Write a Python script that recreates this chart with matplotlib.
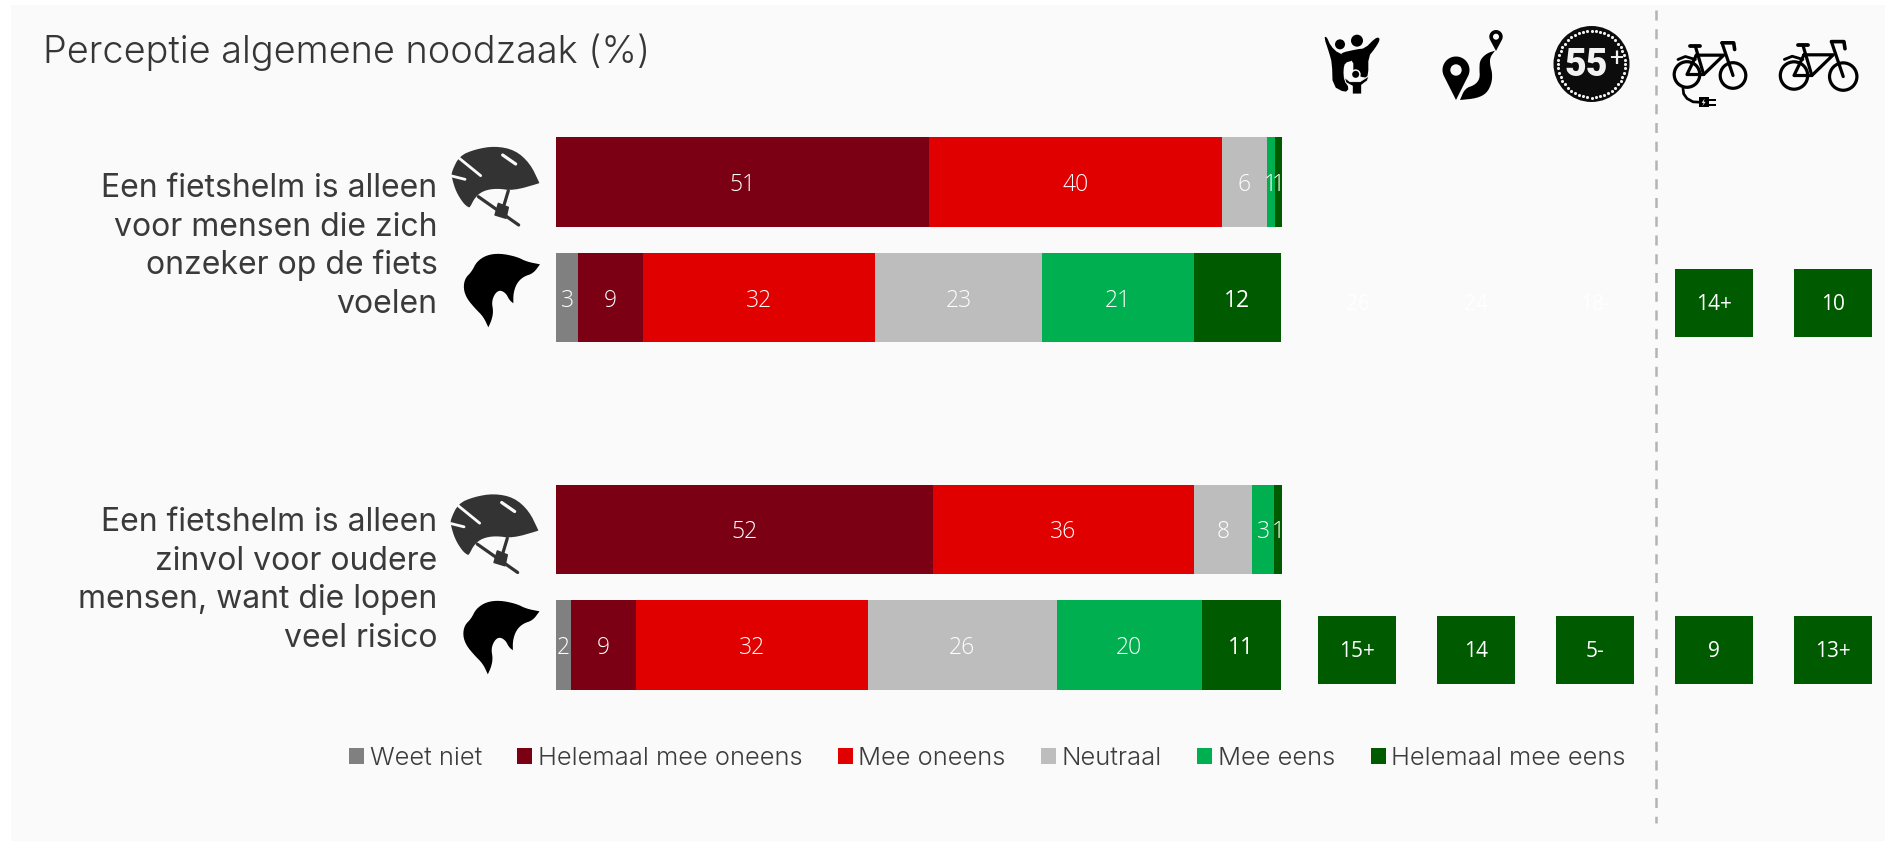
import numpy as np
import matplotlib
matplotlib.use("Agg")
import matplotlib.pyplot as plt
from matplotlib.font_manager import FontProperties
from matplotlib.patches import Circle, Ellipse, Polygon, Rectangle

# ---------- data ----------
title = "Perceptie algemene noodzaak (%)"
question_1 = ["Een fietshelm is alleen", "voor mensen die zich", "onzeker op de fiets", "voelen"]
question_2 = ["Een fietshelm is alleen", "zinvol voor oudere", "mensen, want die lopen", "veel risico"]
row_pos = [0, 1, 3, 4]
answers = ["Weet niet", "Helemaal mee oneens", "Mee oneens", "Neutraal", "Mee eens", "Helemaal mee eens"]
weet_niet = [0, 3.07, 0, 2.1]
helemaal_oneens = [51.45, 8.9, 51.9, 8.9]
oneens = [40.4, 32.0, 36.0, 32.0]
neutraal = [6.1, 23.0, 8.1, 26.0]
eens = [1.15, 21.0, 3.0, 20.0]
helemaal_eens = [0.9, 11.9, 1.0, 10.9]
series = [weet_niet, helemaal_oneens, oneens, neutraal, eens, helemaal_eens]
answer_colors = ["#808080", "#7b0014", "#e10000", "#bdbdbd", "#00b050", "#005a00"]
sub_rows = [1, 4]
sub_labels = [["26", "24", "18-", "14+", "10"], ["15+", "14", "5-", "9", "13+"]]
sub_visible = [[False, False, False, True, True], [True, True, True, True, True]]

W, H = 1885, 841
PANEL = "#fafafa"
INK = "#363636"
fig = plt.figure(figsize=(W / 100, H / 100), dpi=100, facecolor="white")


def axes_px(x0, y0, x1, y1, **kw):
    return fig.add_axes([x0 / W, 1 - y1 / H, (x1 - x0) / W, (y1 - y0) / H], **kw)


def font(size, weight=300, family="Open Sans"):
    return FontProperties(family=family, weight=weight, size=size)


# overlay in pixel coordinates for panel, texts and pictograms
ov = fig.add_axes([0, 0, 1, 1], zorder=1)
ov.set_xlim(0, W)
ov.set_ylim(H, 0)
ov.axis("off")
ov.add_patch(Rectangle((11, 5), W, H, fc=PANEL, ec="none", zorder=0))

# ---------- stacked bars ----------
ax = axes_px(556, 124.1, 1281.5, 702.9, zorder=2)
ax.patch.set_alpha(0)
ax.set_xlim(0, 100)
ax.set_ylim(4.5, -0.5)
ax.axis("off")
lefts = np.zeros(4)
handles = []
for vals, col, name in zip(series, answer_colors, answers):
    vals = np.array(vals, float)
    c = ax.barh(row_pos, vals, left=lefts, height=0.77, color=col, edgecolor="none", label=name)
    handles.append(c)
    for y, v, l in zip(row_pos, vals, lefts):
        if v > 0:
            heavy = col == "#005a00" and v > 5
            ax.text(l + v / 2, y + 0.024, f"{round(v)}", ha="center", va="center", color="white",
                    fontproperties=font(16.5, 400 if heavy else 300))
    lefts += vals
leg = ax.legend(handles, answers, ncol=6, loc="lower left", bbox_to_anchor=(349 / W, 1 - 770 / H),
                bbox_transform=fig.transFigure, frameon=False, prop=font(18.4, 300, "Inter"), borderpad=0,
                borderaxespad=0, handlelength=0.586, handleheight=0.59, handletextpad=0.22,
                columnspacing=1.385, labelcolor="#3c3c3c")

# ---------- subgroup squares ----------
sq = axes_px(1298.1, 124.1, 1891.9, 702.9, zorder=2)
sq.patch.set_alpha(0)
sq.set_xlim(-0.5, 4.5)
sq.set_ylim(4.5, -0.5)
sq.axis("off")
for row, labs, vis in zip(sub_rows, sub_labels, sub_visible):
    for col, (lab, v) in enumerate(zip(labs, vis)):
        if v:
            sq.bar(col, 0.587, width=0.657, bottom=row + 0.045 - 0.2935, color="#005a00")
        sq.text(col, row + 0.06, lab, ha="center", va="center", color="white", fontproperties=font(15, 400))

# ---------- texts ----------
ov.text(43, 63, title, fontproperties=font(27.3, 300, "Inter"), color=INK, va="baseline", ha="left")
for lines, base in ((question_1, 197), (question_2, 531)):
    for i, line in enumerate(lines):
        ov.text(437.5, base + i * 38.6, line, fontproperties=font(23, 400, "Inter"), color="#3a3a3a",
                ha="right", va="baseline")

# separator
ov.plot([1655.5, 1655.5], [10, 823], color="#b4b4b4", lw=1.8, ls=(0, (4, 3.5)), dash_capstyle="butt", zorder=1)


# ---------- pictograms ----------
def chaikin(pts, n=3):
    p = np.array(pts, float)
    for _ in range(n):
        q = np.roll(p, -1, axis=0)
        p = np.column_stack([0.75 * p + 0.25 * q, 0.25 * p + 0.75 * q]).reshape(-1, 2)
    return p


def zmap(pts, ox, oy):
    return np.array(pts, float) / 3 + [ox, oy]


def stroke(pts, color, w, cap="round"):
    p = np.array(pts, float)
    ov.plot(p[:, 0], p[:, 1], color=color, lw=w * 0.72, solid_capstyle=cap, solid_joinstyle="round", zorder=3)


def helmet(dx, dy):
    ox, oy = 420 + dx, 120 + dy
    out = [(95, 155), (118, 108), (165, 88), (225, 78), (285, 90), (330, 130), (358, 188), (358, 190),
           (280, 212), (230, 205), (190, 212), (165, 232), (150, 262), (145, 262), (130, 250), (108, 215), (95, 172)]
    ov.add_patch(Polygon(zmap(chaikin(out, 2), ox, oy), fc="#333333", ec="none", zorder=3))
    stroke(zmap([(118, 115), (182, 167)], ox, oy), PANEL, 2.8)
    stroke(zmap([(95, 168), (135, 178)], ox, oy), PANEL, 2.8)
    stroke(zmap([(248, 105), (287, 132)], ox, oy), PANEL, 3.2)
    stroke(zmap([(175, 230), (296, 315)], ox, oy), "#333333", 3.2)
    stroke(zmap([(265, 212), (250, 262)], ox, oy), "#333333", 3.2)
    ov.add_patch(Polygon(zmap([(235, 250), (265, 262), (258, 295), (225, 285)], ox, oy), fc="#333333", ec="#333333",
                         lw=1, joinstyle="round", zorder=3))


def hair(dx, dy):
    ox, oy = 420 + dx, 120 + dy
    out = [(360, 433), (320, 425), (290, 410), (240, 400), (200, 405), (170, 425), (155, 455), (135, 475), (130, 505),
           (140, 535), (165, 565), (190, 590), (205, 622), (205, 622), (215, 600), (220, 575), (215, 545), (225, 520),
           (240, 510), (258, 520), (268, 540), (280, 550), (280, 550), (280, 520), (290, 490), (310, 470), (340, 460),
           (360, 433)]
    ov.add_patch(Polygon(zmap(chaikin(out, 2), ox, oy), fc="black", ec="none", zorder=3))


helmet(0, 0)
hair(0, 0)
helmet(-1, 347.5)
hair(-0.5, 347)


# family
def fam(pts):
    return zmap(pts, 1310, 20)


ov.add_patch(Polygon(fam(chaikin([(42, 52), (50, 50), (62, 78), (85, 100), (128, 112), (128, 122), (105, 128), (100, 150),
                                  (102, 180), (118, 205), (105, 218), (68, 198), (66, 130), (58, 100)], 1)), fc="black", ec="none", zorder=3))
ov.add_patch(Polygon(fam(chaikin([(95, 98), (140, 88), (165, 85), (195, 55), (207, 52), (209, 62), (195, 85), (175, 110),
                                  (175, 165), (165, 175), (130, 160), (130, 120), (95, 105)], 1)), fc="black", ec="none", zorder=3))
ov.add_patch(Polygon(fam([(103, 172), (120, 185), (150, 185), (177, 168), (172, 182), (155, 195), (155, 222), (127, 222),
                          (127, 198), (108, 188)]), fc="black", ec=PANEL, lw=0.6, zorder=3))
for c, r, col in (((90, 73), 15, "black"), ((141, 62), 18, "black"), ((137, 163), 15, PANEL), ((137, 163), 10.5, "black")):
    ov.add_patch(Circle(fam([c])[0], r / 3, fc=col, ec="none", zorder=3))


# route
def pin(cx, cy, r, tip, hole):
    a = np.radians(np.linspace(210, -30, 40))
    arc = np.column_stack([cx + r * np.cos(a), cy - r * np.sin(a)])
    ov.add_patch(Polygon(np.vstack([arc, [cx, tip]]), fc="black", ec="none", zorder=3))
    ov.add_patch(Circle((cx, cy), hole, fc=PANEL, ec="none", zorder=4))


pin(1456, 70, 13.5, 100, 5.7)
pin(1496, 36.7, 6.7, 51, 3)
road = [(195, 92), (180, 112), (180, 135), (187, 160), (185, 190), (170, 220), (140, 235), (90, 240), (90, 240),
        (105, 205), (135, 195), (150, 175), (148, 145), (150, 120), (170, 100), (195, 92)]
ov.add_patch(Polygon(zmap(chaikin(road, 2), 1430, 20), fc="black", ec="none", zorder=3))

# 55+ badge
bc = (1591.5, 64)
ov.add_patch(Ellipse(bc, 76, 76, fc="#0c0c0c", ec="none", zorder=3))
t = np.radians(np.arange(0, 360, 7.5))
ov.scatter(bc[0] + 33.5 * np.cos(t), bc[1] + 33.5 * np.sin(t), s=5, color="#f0f0f0", lw=0, zorder=4)
ov.text(bc[0] - 5, bc[1] + 1, "55", ha="center", va="center", color="#f2f2f2", zorder=5,
        fontproperties=FontProperties(family="Roboto", weight=900, size=27))
ov.text(bc[0] + 25, bc[1] - 5, "+", ha="center", va="center", color="#f2f2f2", zorder=5,
        fontproperties=FontProperties(family="Roboto", weight=400, size=18))


# bikes
def bike(cx, cy, s, electric=False):
    f = lambda pts: np.array(pts, float) * s / 3 + [cx, cy]
    w = 3.2
    for c in ((0, 0), (138, 3)):
        ov.add_patch(Circle(f([c])[0], 12.8 * s, fc="none", ec="black", lw=w * 0.72, zorder=3))
    stroke(f([(25, -85), (50, 0)]), "black", w)
    stroke(f([(28, -58), (110, -58), (50, 0), (0, 0), (28, -58)]), "black", w)
    stroke(f([(105, -95), (138, 3)]), "black", w)
    stroke(f([(105, -95), (140, -95), (143, -75)]), "black", w + 0.4)
    stroke(f([(10, -85), (40, -85)]), "black", w + 0.6)
    stroke(f([(-27, -45), (-5, -54), (25, -45)]), "black", w - 0.4)
    if electric:
        a = np.array([(-12, 42), (-10, 58), (0, 72), (18, 82), (35, 83)], float)
        stroke(f(a), "black", w - 0.5)
        ov.add_patch(Rectangle(f([(35, 68)])[0], 30 * s / 3, 30 * s / 3, fc="black", ec="none", zorder=3))
        stroke(f([(65, 75), (88, 75)]), "black", 2, "butt")
        stroke(f([(65, 90), (88, 90)]), "black", 2, "butt")
        ov.add_patch(Polygon(f([(53, 72), (44, 85), (50, 85), (46, 95), (56, 82), (50, 82)]), fc=PANEL, ec="none", zorder=4))


bike(1687, 74.5, 1.0, True)
bike(1794, 75.5, 1.07)

fig.savefig("out.png", dpi=100, facecolor=fig.get_facecolor())
